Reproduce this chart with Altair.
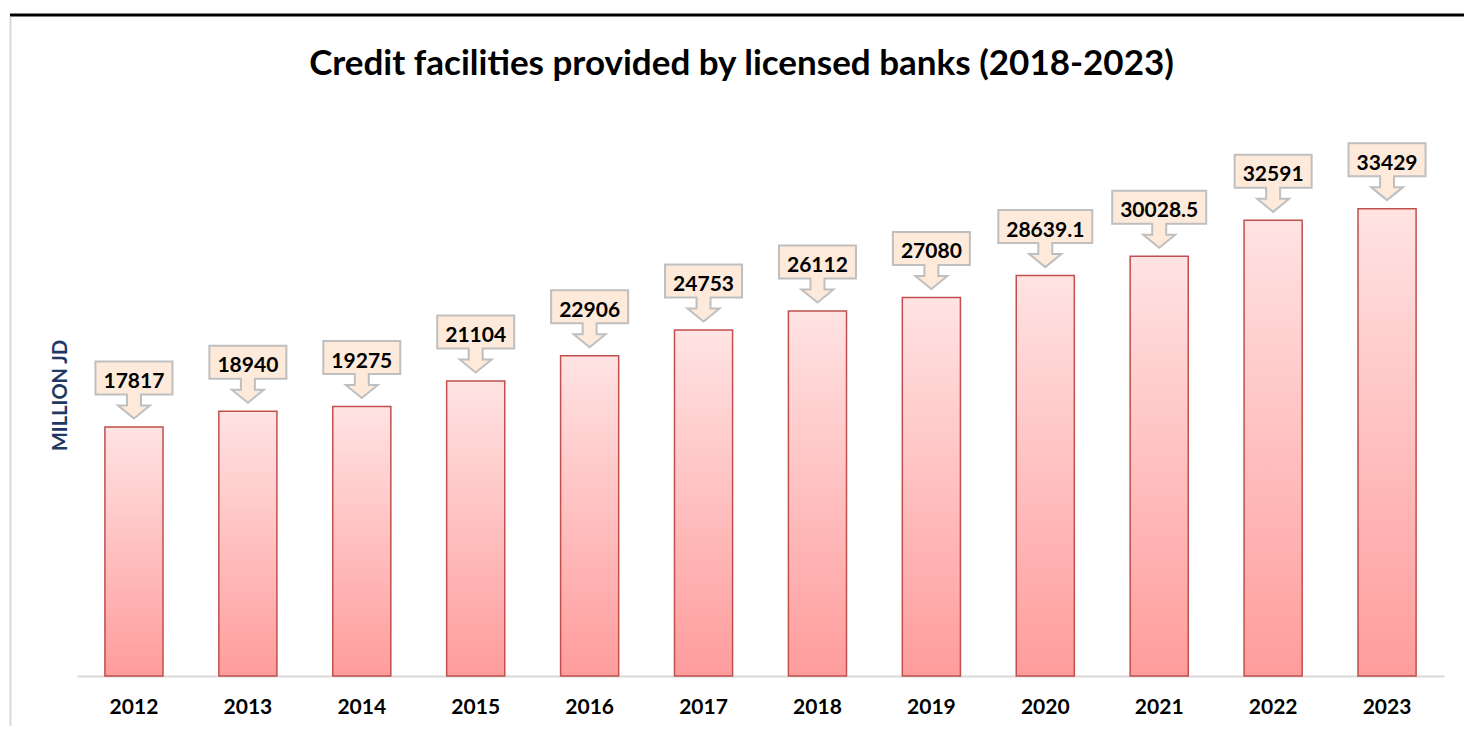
import altair as alt
import pandas as pd

years = ["2012", "2013", "2014", "2015", "2016", "2017", "2018", "2019", "2020", "2021", "2022", "2023"]
values = [17817, 18940, 19275, 21104, 22906, 24753, 26112, 27080, 28639.1, 30028.5, 32591, 33429]
labels = ["17817", "18940", "19275", "21104", "22906", "24753", "26112", "27080", "28639.1", "30028.5", "32591", "33429"]

df = pd.DataFrame({"year": years, "value": values, "label": labels})

NARROW = "M-38.5,-57L38.5,-57L38.5,-24L7,-24L7,-13L16,-13L0,0L-16,-13L-7,-13L-7,-24L-38.5,-24Z"
WIDE = "M-47,-57L47,-57L47,-24L7,-24L7,-13L16,-13L0,0L-16,-13L-7,-13L-7,-24L-47,-24Z"

FONT = "Lato"

x_enc = alt.X(
    "year:N",
    sort=years,
    scale=alt.Scale(paddingInner=0.49, paddingOuter=0.245),
    axis=alt.Axis(
        title=None, ticks=False, labelAngle=0, labelFont=FONT, labelFontSize=21,
        labelFontWeight="bold", labelColor="#000000", labelPadding=20,
        domainColor="#D9D9D9", domainWidth=2, grid=False,
    ),
)
y_enc = alt.Y(
    "value:Q",
    scale=alt.Scale(domain=[0, 41200], nice=False),
    axis=alt.Axis(
        title="MILLION  JD", labels=False, ticks=False, domain=False, grid=False,
        titleFont=FONT, titleFontSize=20, titleFontWeight="bold", titleColor="#1F3864",
        titleX=-17, titleY=295, titleAngle=-90, titleAlign="center", titleBaseline="middle",
    ),
)

base = alt.Chart(df)

bars = base.mark_bar(
    color=alt.Gradient(
        gradient="linear",
        stops=[
            alt.GradientStop(color="#FFE3E3", offset=0),
            alt.GradientStop(color="#FF9C9C", offset=1),
        ],
        x1=1, x2=1, y1=0, y2=1,
    ),
    stroke="#C0504D",
    strokeWidth=1.5,
).encode(x=x_enc, y=y_enc)

callouts = base.transform_calculate(
    shp=f"length(datum.label) > 5 ? '{WIDE}' : '{NARROW}'"
).mark_point(
    filled=True, fill="#FDEADA", stroke="#BFBFBF", strokeWidth=2, opacity=1, yOffset=-8.5
).encode(
    x=alt.X("year:N", sort=years),
    y=alt.Y("value:Q"),
    shape=alt.Shape("shp:N", scale=None),
    size=alt.value(4),
)

texts = base.mark_text(
    font=FONT, fontSize=21, fontWeight="bold", color="#000000", baseline="middle", dy=-45
).encode(
    x=alt.X("year:N", sort=years),
    y=alt.Y("value:Q"),
    text="label:N",
)

one = alt.Chart(pd.DataFrame({"a": [0]}))
top_rule = one.mark_rule(color="#000000", strokeWidth=3).encode(
    x=alt.value(-67), x2=alt.value(1395), y=alt.value(-85)
)
left_rule = one.mark_rule(color="#D9D9D9", strokeWidth=2).encode(
    x=alt.value(-66.5), y=alt.value(-83), y2=alt.value(640)
)

chart = alt.layer(bars, callouts, texts, top_rule, left_rule).properties(
    width=1367,
    height=576,
    autosize=alt.AutoSizeParams(type="none"),
    padding={"left": 69, "top": 92, "right": 20, "bottom": 50},
    title=alt.TitleParams(
        text="Credit facilities provided by licensed banks (2018-2023)",
        font=FONT, fontSize=35, fontWeight="bold", color="#000000",
        anchor="middle", dx=-19, dy=72,
    ),
).configure_view(stroke=None)

chart.save("out.html", embed_options={"renderer": "svg", "actions": False})
